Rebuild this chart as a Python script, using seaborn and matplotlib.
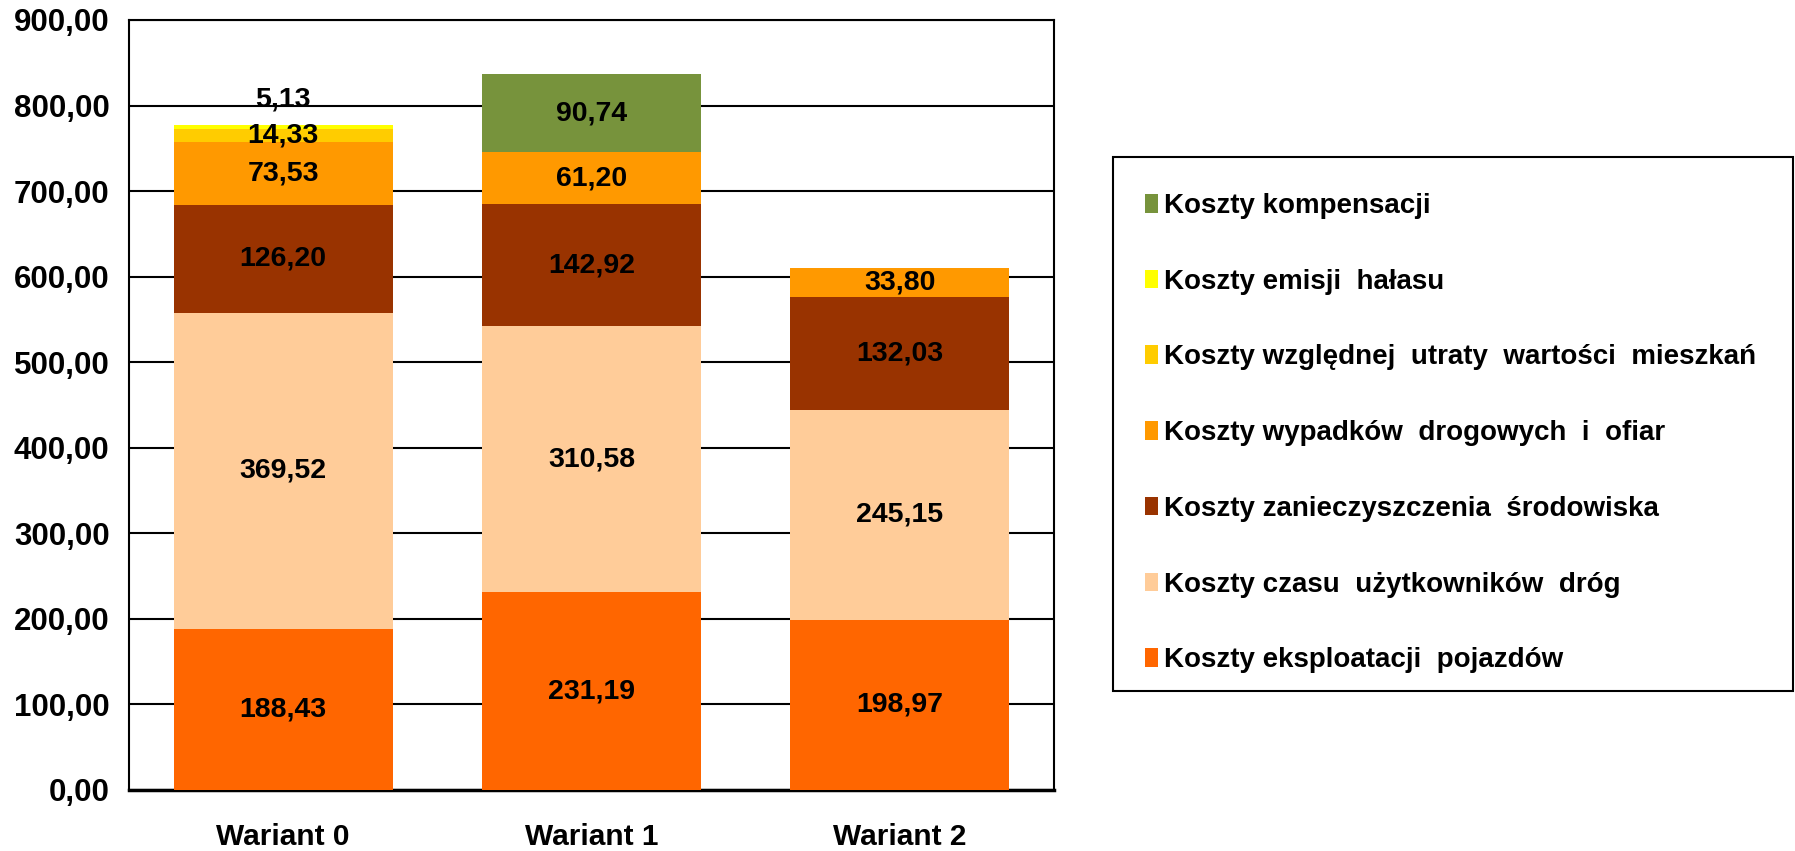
import matplotlib
matplotlib.use("Agg")
import matplotlib.pyplot as plt
from matplotlib import font_manager
import matplotlib.patches as mpatches
import seaborn as sns
import pandas as pd
import numpy as np

categories = ["Wariant 0", "Wariant 1", "Wariant 2"]
eksploatacji = [188.43, 231.19, 198.97]
czasu = [369.52, 310.58, 245.15]
zanieczyszczenia = [126.20, 142.92, 132.03]
wypadkow = [73.53, 61.20, 33.80]
utraty = [14.33, 0.0, 0.0]
halasu = [5.13, 0.0, 0.0]
kompensacji = [0.0, 90.74, 0.0]

series_names = [
    "Koszty eksploatacji  pojazdów",
    "Koszty czasu  użytkowników  dróg",
    "Koszty zanieczyszczenia  środowiska",
    "Koszty wypadków  drogowych  i  ofiar",
    "Koszty względnej  utraty  wartości  mieszkań",
    "Koszty emisji  hałasu",
    "Koszty kompensacji",
]
series_values = [eksploatacji, czasu, zanieczyszczenia, wypadkow, utraty, halasu, kompensacji]
colors = ["#FF6600", "#FFCC99", "#993300", "#FF9900", "#FFCC00", "#FFFF00", "#77933C"]
yticks = [0, 100, 200, 300, 400, 500, 600, 700, 800, 900]

sns.set_style("white")
plt.rcParams["font.family"] = ["Liberation Sans", "DejaVu Sans"]
plt.rcParams["text.color"] = "black"
plt.rcParams["xtick.color"] = "black"
plt.rcParams["ytick.color"] = "black"
plt.rcParams["xtick.labelcolor"] = "black"
plt.rcParams["ytick.labelcolor"] = "black"
plt.rcParams["legend.labelcolor"] = "black"

W, H = 1795, 851
fig = plt.figure(figsize=(W / 100, H / 100), dpi=100)
ax = fig.add_axes([0.0719, 0.0717, 0.5153, 0.9048])

df = pd.DataFrame({"Wariant": categories})
cum = np.zeros(len(categories))
for name, vals, col in zip(series_names, series_values, colors):
    d = df.copy()
    d["value"] = vals
    sns.barplot(data=d, x="Wariant", y="value", bottom=cum, color=col, width=0.71,
                ax=ax, saturation=1, linewidth=0, zorder=3, errorbar=None)
    for i, v in enumerate(vals):
        if v > 0:
            yc = cum[i] + v / 2
            off = 0
            if v < 10:
                off = 28
            ax.annotate(f"{v:.2f}".replace(".", ","), (i, yc), xytext=(0, off),
                        textcoords="offset pixels", ha="center", va="center",
                        fontsize=20.5, fontweight="bold", color="black", zorder=5)
    cum = cum + np.array(vals)

ax.set_xlim(-0.5, 2.5)
ax.set_ylim(0, 900)
ax.set_yticks(yticks)
ax.set_yticklabels([f"{t:.2f}".replace(".", ",") for t in yticks], fontsize=22.5,
                   fontweight="bold", color="black")
ax.yaxis.grid(True, color="black", linewidth=1.5, zorder=0)
ax.set_axisbelow(True)
ax.set_xticks([0, 1, 2])
ax.set_xticklabels(categories, fontsize=21.5, fontweight="bold", color="black")
ax.tick_params(axis="x", length=0, pad=24)
ax.set_xticks([-0.5, 0.5, 1.5, 2.5], minor=True)
ax.tick_params(axis="x", which="minor", length=10, width=1.5, color="black", direction="out")
ax.tick_params(axis="y", length=9, width=1.5, color="black", direction="out", pad=5)
ax.set_xlabel("")
ax.set_ylabel("")
for s in ["left", "bottom", "right", "top"]:
    ax.spines[s].set_visible(True)
    ax.spines[s].set_color("black")
    ax.spines[s].set_linewidth(1.5)
ax.spines["bottom"].set_linewidth(2.5)

# legend frame
frame = mpatches.Rectangle((1113 / W, 1 - 691 / H), (1793 - 1113) / W, (691 - 157) / H,
                           transform=fig.transFigure, facecolor="white", edgecolor="black",
                           linewidth=1.5, zorder=1)
fig.patches.append(frame)

handles = [mpatches.Patch(facecolor=c, edgecolor="none", label=n)
           for n, c in zip(series_names, colors)][::-1]
leg = fig.legend(handles=handles, loc="upper left", bbox_to_anchor=(1145 / W, 1 - 193 / H),
                 frameon=False,
                 prop=font_manager.FontProperties(family=["Liberation Sans"], weight="bold", size=20),
                 handlelength=0.45, handleheight=0.65, handletextpad=0.25,
                 labelspacing=1.79, borderpad=0, borderaxespad=0, labelcolor="black")
leg.set_zorder(2)

fig.savefig("out.png", dpi=100)
